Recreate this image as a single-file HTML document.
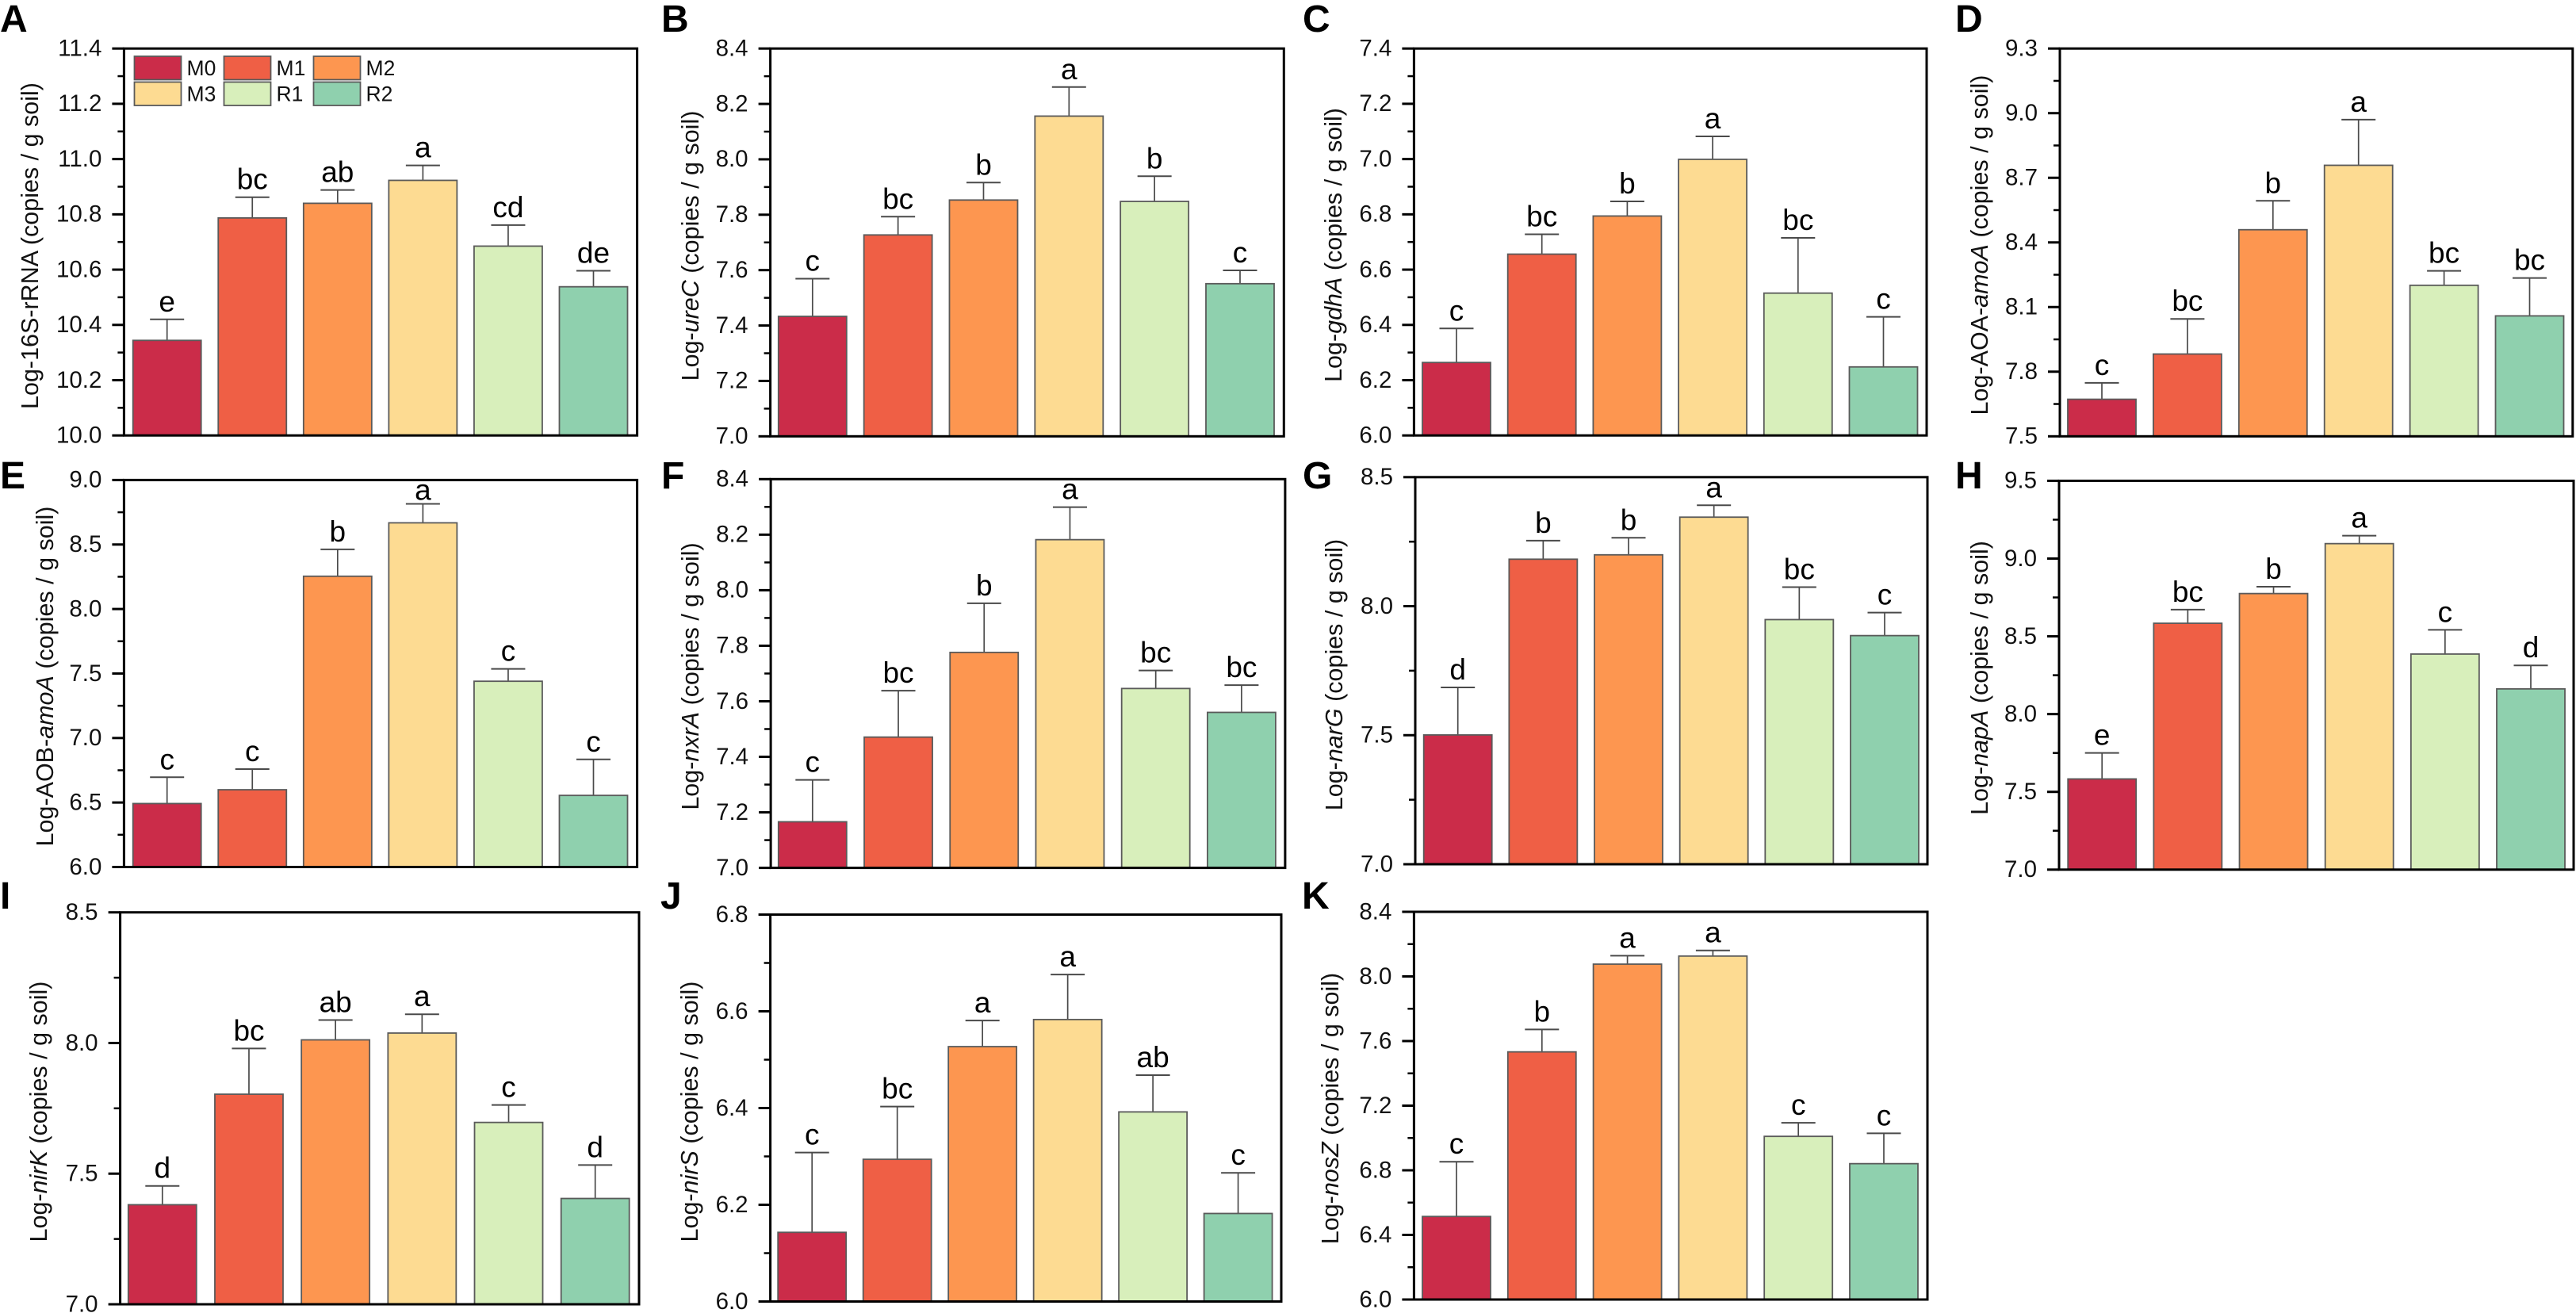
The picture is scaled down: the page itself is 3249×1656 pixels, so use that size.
<!DOCTYPE html>
<html lang="en">
<head>
<meta charset="utf-8">
<title>Log gene abundance bar charts</title>
<style>
html,body{margin:0;padding:0;background:#fff;}
svg{display:block;font-family:"Liberation Sans",Arial,sans-serif;}
</style>
</head>
<body>
<svg id="figure" xmlns="http://www.w3.org/2000/svg" width="3249" height="1656" viewBox="0 0 3249 1656"></svg>
<script>
const categories = ['M0','M1','M2','M3','R1','R2'];
const colors = ['#CB2C49','#EF5F45','#FD9650','#FDDB92','#D8EFBB','#8FD0AE'];

const meansA = [10.344,10.787,10.84,10.923,10.685,10.538];
const upperA = [10.42,10.862,10.888,10.977,10.761,10.596];
const sigA = ['e','bc','ab','a','cd','de'];
const ticksA = ['10.0','10.2','10.4','10.6','10.8','11.0','11.2','11.4'];

const meansB = [7.433,7.727,7.853,8.156,7.848,7.551];
const upperB = [7.569,7.793,7.916,8.261,7.939,7.599];
const sigB = ['c','bc','b','a','b','c'];
const ticksB = ['7.0','7.2','7.4','7.6','7.8','8.0','8.2','8.4'];

const meansC = [6.264,6.656,6.794,6.999,6.515,6.248];
const upperC = [6.387,6.728,6.847,7.082,6.715,6.429];
const sigC = ['c','bc','b','a','bc','c'];
const ticksC = ['6.0','6.2','6.4','6.6','6.8','7.0','7.2','7.4'];

const meansD = [7.672,7.882,8.459,8.758,8.201,8.059];
const upperD = [7.748,8.045,8.593,8.97,8.268,8.235];
const sigD = ['c','bc','b','a','bc','bc'];
const ticksD = ['7.5','7.8','8.1','8.4','8.7','9.0','9.3'];

const meansE = [6.492,6.599,8.254,8.668,7.44,6.555];
const upperE = [6.696,6.759,8.462,8.815,7.536,6.834];
const sigE = ['c','c','b','a','c','c'];
const ticksE = ['6.0','6.5','7.0','7.5','8.0','8.5','9.0'];

const meansF = [7.166,7.471,7.776,8.182,7.646,7.56];
const upperF = [7.317,7.638,7.953,8.299,7.711,7.658];
const sigF = ['c','bc','b','a','bc','bc'];
const ticksF = ['7.0','7.2','7.4','7.6','7.8','8.0','8.2','8.4'];

const meansG = [7.501,8.182,8.199,8.345,7.948,7.886];
const upperG = [7.685,8.254,8.265,8.391,8.074,7.975];
const sigG = ['d','b','b','a','bc','c'];
const ticksG = ['7.0','7.5','8.0','8.5'];

const meansH = [7.583,8.584,8.775,9.096,8.386,8.162];
const upperH = [7.75,8.672,8.819,9.147,8.542,8.313];
const sigH = ['e','bc','b','a','c','d'];
const ticksH = ['7.0','7.5','8.0','8.5','9.0','9.5'];

const meansI = [7.381,7.804,8.012,8.038,7.696,7.405];
const upperI = [7.453,7.979,8.088,8.11,7.763,7.533];
const sigI = ['d','bc','ab','a','c','d'];
const ticksI = ['7.0','7.5','8.0','8.5'];

const meansJ = [6.143,6.294,6.527,6.583,6.392,6.182];
const upperJ = [6.308,6.403,6.581,6.676,6.468,6.266];
const sigJ = ['c','bc','a','a','ab','c'];
const ticksJ = ['6.0','6.2','6.4','6.6','6.8'];

const meansK = [6.514,7.533,8.076,8.126,7.01,6.841];
const upperK = [6.853,7.672,8.128,8.161,7.094,7.029];
const sigK = ['c','b','a','a','c','c'];
const ticksK = ['6.0','6.4','6.8','7.2','7.6','8.0','8.4'];

const panels = [
 {id:'A',means:meansA,upper:upperA,sig:sigA,ticks:ticksA,pre:'Log-16S-rRNA',gene:'',L:156.4,R:803.6,T:61.2,B:549.2,b0:167.7,bN:705.5,tx:48,ty:310,lx:0,ly:40},
 {id:'B',means:meansB,upper:upperB,sig:sigB,ticks:ticksB,pre:'Log-',gene:'ureC',L:971.6,R:1619.3,T:61.2,B:550.3,b0:981.8,bN:1521,tx:881,ty:310,lx:834,ly:40},
 {id:'C',means:meansC,upper:upperC,sig:sigC,ticks:ticksC,pre:'Log-',gene:'gdhA',L:1783.4,R:2430,T:61.2,B:549.2,b0:1794,bN:2332.5,tx:1692,ty:309,lx:1643,ly:40},
 {id:'D',means:meansD,upper:upperD,sig:sigD,ticks:ticksD,pre:'Log-AOA-',gene:'amoA',L:2598,R:3244.8,T:61.2,B:550.3,b0:2608,bN:3147.5,tx:2507,ty:309,lx:2466,ly:40},
 {id:'E',means:meansE,upper:upperE,sig:sigE,ticks:ticksE,pre:'Log-AOB-',gene:'amoA',L:156.4,R:803.6,T:605.4,B:1093.5,b0:167.7,bN:705.5,tx:67,ty:853,lx:0,ly:616},
 {id:'F',means:meansF,upper:upperF,sig:sigF,ticks:ticksF,pre:'Log-',gene:'nxrA',L:972.1,R:1620.9,T:604.3,B:1094.6,b0:981.8,bN:1522.9,tx:881,ty:853,lx:834,ly:616},
 {id:'G',means:meansG,upper:upperG,sig:sigG,ticks:ticksG,pre:'Log-',gene:'narG',L:1785,R:2431,T:601.8,B:1090,b0:1795.7,bN:2334,tx:1693,ty:851,lx:1643,ly:616},
 {id:'H',means:meansH,upper:upperH,sig:sigH,ticks:ticksH,pre:'Log-',gene:'napA',L:2597,R:3246,T:606.4,B:1096.8,b0:2608.2,bN:3149,tx:2507,ty:855,lx:2466,ly:616},
 {id:'I',means:meansI,upper:upperI,sig:sigI,ticks:ticksI,pre:'Log-',gene:'nirK',L:151.6,R:806,T:1150.7,B:1645,b0:161.8,bN:707.7,tx:59,ty:1402,lx:0,ly:1146},
 {id:'J',means:meansJ,upper:upperJ,sig:sigJ,ticks:ticksJ,pre:'Log-',gene:'nirS',L:971.6,R:1616,T:1153.5,B:1641.5,b0:981.2,bN:1518.6,tx:880,ty:1402,lx:833,ly:1146},
 {id:'K',means:meansK,upper:upperK,sig:sigK,ticks:ticksK,pre:'Log-',gene:'nosZ',L:1783.4,R:2431,T:1150,B:1639,b0:1794,bN:2333,tx:1688,ty:1398,lx:1642,ly:1146}
];

const NS = 'http://www.w3.org/2000/svg';
const root = document.getElementById('figure');
const BAR_W = 86;

function mk(tag, parent, attrs, text){
  const el = document.createElementNS(NS, tag);
  for (const k in attrs) el.setAttribute(k, attrs[k]);
  if (text !== undefined) el.textContent = text;
  parent.appendChild(el);
  return el;
}
function line(parent, x1, y1, x2, y2, stroke, width){
  return mk('line', parent, {x1:x1, y1:y1, x2:x2, y2:y2, stroke:stroke, 'stroke-width':width});
}

panels.forEach(function(p){
  const lo = parseFloat(p.ticks[0]);
  const hi = parseFloat(p.ticks[p.ticks.length-1]);
  const yScale = function(v){ return p.B - (v-lo)/(hi-lo)*(p.B-p.T); };
  const xBand = function(i){ return p.b0 + i*(p.bN-p.b0)/(categories.length-1); };

  const g = mk('g', root, {});
  
  

  const letter = mk('text', g, {x:p.lx, y:p.ly, 'font-size':48, 'font-weight':'bold', fill:'#000'}, p.id);
  
  

  const title = mk('text', g, {transform:'translate('+p.tx+','+p.ty+') rotate(-90)', 'text-anchor':'middle', 'font-size':30.5, fill:'#111'});
  
  
  mk('tspan', title, {}, p.pre);
  if (p.gene) mk('tspan', title, {'font-style':'italic'}, p.gene);
  mk('tspan', title, {}, ' (copies / g soil)');

  categories.forEach(function(cat, i){
    const x = xBand(i);
    const cx = x + BAR_W/2;
    const yTop = yScale(p.means[i]);
    const yErr = yScale(p.upper[i]);

    const err = mk('g', g, {});
    
    
    line(err, cx, yTop, cx, yErr, '#4a4a4a', 1.7);
    line(err, cx-21.5, yErr, cx+21.5, yErr, '#4a4a4a', 2);

    const bar = mk('rect', g, {x:x, y:yTop, width:BAR_W, height:p.B-yTop, fill:colors[i], stroke:'#5a5a5a', 'stroke-width':1.8});
    
    

    const labelY = Math.max(yErr-10, p.T+25);
    const sig = mk('text', g, {x:cx, y:labelY, 'text-anchor':'middle', 'font-size':37, fill:'#000'}, p.sig[i]);
    
    
  });

  const frame = mk('rect', g, {x:p.L, y:p.T, width:p.R-p.L, height:p.B-p.T, fill:'none', stroke:'#000', 'stroke-width':3});
  
  

  p.ticks.forEach(function(t, i){
    const v = parseFloat(t);
    const y = yScale(v);
    const tick = line(g, p.L-15, y, p.L, y, '#000', 3);
    
    

    const lab = mk('text', g, {x:p.L-28, y:y+9.3, 'text-anchor':'end', 'font-size':29.5, fill:'#111'}, t);
    
    

    if (i < p.ticks.length-1){
      const ym = yScale((v + parseFloat(p.ticks[i+1]))/2);
      const minor = line(g, p.L-8, ym, p.L, ym, '#000', 2.5);
      
      
    }
  });

  if (p.id === 'A'){
    const legend = mk('g', g, {});
    
    
    categories.forEach(function(cat, i){
      const col = i % 3;
      const row = Math.floor(i / 3);
      const sx = 169.5 + col*113;
      const sy = 71 + row*32.5;
      const entry = mk('g', legend, {});
      
      
      mk('rect', entry, {x:sx, y:sy, width:59, height:29.5, fill:colors[i], stroke:'#5a5a5a', 'stroke-width':1.8});
      mk('text', entry, {x:sx+66, y:sy+24, 'font-size':26.5, fill:'#111'}, cat);
    });
  }
});
</script>
</body>
</html>
